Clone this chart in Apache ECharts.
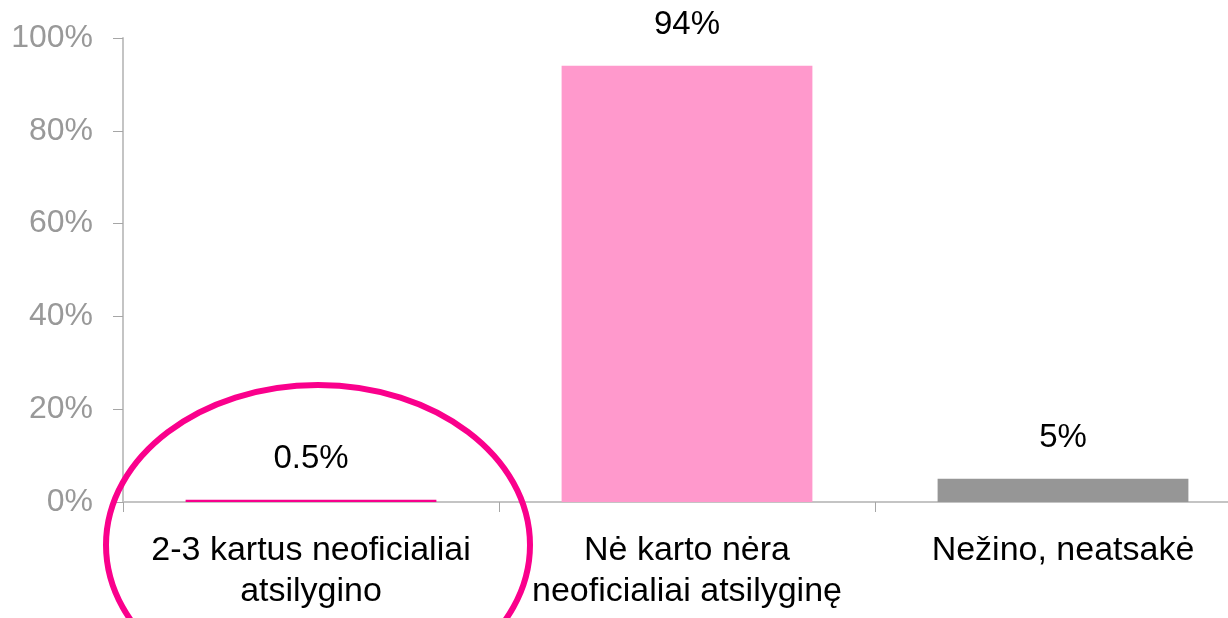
<!DOCTYPE html>
<html>
<head>
<meta charset="utf-8">
<script src="https://cdn.jsdelivr.net/npm/echarts@6/dist/echarts.min.js"></script>
<style>
  html, body { margin: 0; padding: 0; background: #fff; }
  #chart { width: 1228px; height: 618px; }
</style>
</head>
<body>
<div id="chart"></div>
<script>
const categories = ['2-3 kartus neoficialiai\natsilygino', 'Nė karto nėra\nneoficialiai atsilyginę', 'Nežino, neatsakė']
const values = [0.5, 94, 5]
const barColors = ['#F7008C', '#FF99CC', '#969696']
const yTicks = [0, 20, 40, 60, 80, 100]

const chart = echarts.init(document.getElementById('chart'))
const font = 'Arial, "Liberation Sans", sans-serif'

chart.setOption({
  animation: false,
  // plot runs past the right edge, as in the original slide
  grid: {
    left: 123, width: 1128, top: 38, bottom: 116,
    containLabel: false, outerBoundsMode: 'none'
  },
  xAxis: {
    type: 'category',
    data: categories,
    axisLine: { lineStyle: { color: '#C4C4C4', width: 2 } },
    axisTick: { show: true, length: 10, lineStyle: { color: '#A6A6A6' } },
    axisLabel: {
      color: '#000', fontSize: 34, fontFamily: font,
      lineHeight: 41, margin: 28, interval: 0
    }
  },
  yAxis: {
    type: 'value',
    min: yTicks[0],
    max: yTicks[yTicks.length - 1],
    interval: 20,
    axisLine: { show: true, lineStyle: { color: '#C4C4C4', width: 2 } },
    axisTick: { show: true, length: 10, lineStyle: { color: '#A6A6A6' } },
    splitLine: { show: false },
    axisLabel: {
      formatter: '{value}%', color: '#999999', fontSize: 32,
      fontFamily: font, margin: 30
    }
  },
  series: [{
    type: 'bar',
    barWidth: '66.7%',
    data: values.map((v, i) => ({ value: v, itemStyle: { color: barColors[i] } })),
    label: {
      show: true, position: 'top', distance: 24,
      color: '#000', fontSize: 33, fontFamily: font,
      formatter: p => p.value + '%'
    }
  }],
  graphic: [{
    // highlight ring round the first category
    type: 'ellipse',
    shape: { cx: 318, cy: 545, rx: 212, ry: 160 },
    style: { fill: 'none', stroke: '#FA008C', lineWidth: 6 },
    z: 100
  }]
})
</script>
</body>
</html>
